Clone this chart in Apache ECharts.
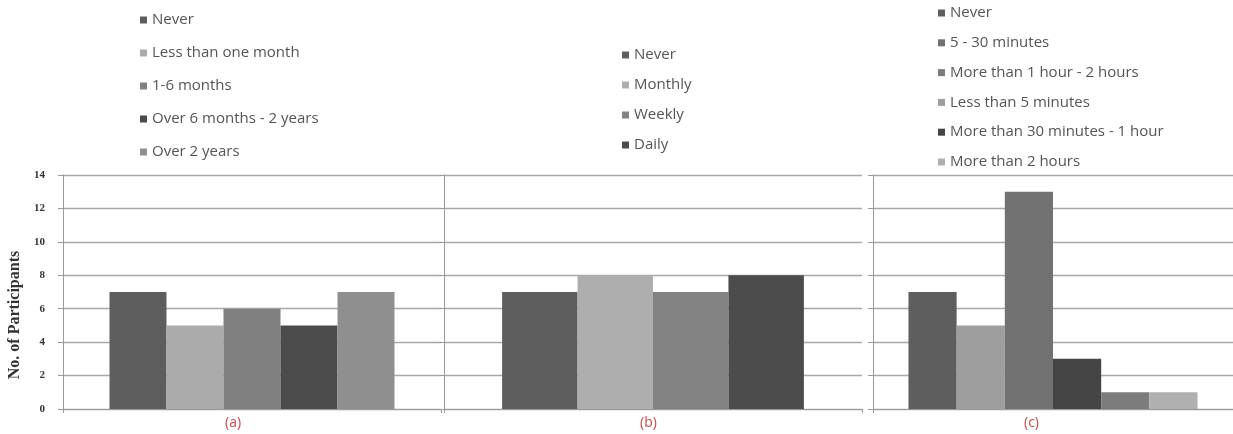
<!DOCTYPE html>
<html>
<head>
<meta charset="utf-8">
<script src="https://cdn.jsdelivr.net/npm/echarts@6/dist/echarts.min.js"></script>
<style>
  html, body { margin: 0; padding: 0; background: #fff; }
  #chart { width: 1233px; height: 434px; }
</style>
</head>
<body>
<div id="chart"></div>
<script>
// Panel (a): how long participants have been doing it
const namesA = ['Never', 'Less than one month', '1-6 months', 'Over 6 months - 2 years', 'Over 2 years'];
const valuesA = [7, 5, 6, 5, 7];
const colorsA = ['#5e5e5e', '#ababab', '#808080', '#4b4b4b', '#8f8f8f'];

// Panel (b): frequency
const namesB = ['Never', 'Monthly', 'Weekly', 'Daily'];
const valuesB = [7, 8, 7, 8];
const colorsB = ['#5e5e5e', '#aeaeae', '#828282', '#4c4c4c'];

// Panel (c): time spent per session (bar order)
const namesC = ['Never', 'Less than 5 minutes', '5 - 30 minutes', 'More than 30 minutes - 1 hour',
                'More than 1 hour - 2 hours', 'More than 2 hours'];
const valuesC = [7, 5, 13, 3, 1, 1];
const colorsC = ['#5e5e5e', '#9e9e9e', '#727272', '#454545', '#7c7c7c', '#b0b0b0'];
// Legend order for panel (c)
const legendC = ['Never', '5 - 30 minutes', 'More than 1 hour - 2 hours', 'Less than 5 minutes',
                 'More than 30 minutes - 1 hour', 'More than 2 hours'];

const panelLabels = ['(a)', '(b)', '(c)'];
const yTicks = { min: 0, max: 14, interval: 2 };
const yTitle = 'No. of Participants';

const gridLine = '#a8a8a8';
const legendFont = { fontFamily: 'Open Sans', fontSize: 15, color: '#555', lineHeight: 16 };

const grids = [
  { left: 63, width: 378, top: 175, bottom: 25 },
  { left: 444, width: 418, top: 175, bottom: 25 },
  { left: 873, right: 0, top: 175, bottom: 25 }
];

function xAxisFor(i) {
  return {
    type: 'category', gridIndex: i, data: [panelLabels[i]],
    axisLine: { lineStyle: { color: '#9a9a9a', width: 1 } },
    axisTick: { show: true, length: 4, lineStyle: { color: '#9a9a9a' } },
    axisLabel: { show: false }
  };
}

function yAxisFor(i) {
  return {
    type: 'value', gridIndex: i, min: yTicks.min, max: yTicks.max, interval: yTicks.interval,
    axisLine: { show: true, lineStyle: { color: '#9a9a9a', width: 1 } },
    axisTick: { show: true, length: 5, lineStyle: { color: '#9a9a9a' } },
    splitLine: { show: true, lineStyle: { color: gridLine, width: 1.3 } },
    axisLabel: {
      show: i === 0, margin: 18, fontFamily: 'Liberation Serif', fontWeight: 'bold',
      fontSize: 11, color: '#333'
    }
  };
}

function seriesFor(i, names, values, colors, gap) {
  return names.map((n, k) => ({
    type: 'bar', name: n, xAxisIndex: i, yAxisIndex: i,
    data: [values[k]],
    barGap: '0%', barCategoryGap: gap,
    itemStyle: { color: colors[k] },
    emphasis: { disabled: true }
  }));
}

function legendFor(names, left, top, gap) {
  return {
    data: names, orient: 'vertical', left: left, top: top, padding: 0,
    itemGap: gap, itemWidth: 7, itemHeight: 7, icon: 'rect',
    itemStyle: { borderWidth: 0 },
    textStyle: legendFont, selectedMode: false
  };
}

const panelLabelFont = '14px "Open Sans"';

const option = {
  animation: false,
  backgroundColor: '#fff',
  grid: grids,
  xAxis: [xAxisFor(0), xAxisFor(1), xAxisFor(2)],
  yAxis: [yAxisFor(0), yAxisFor(1), yAxisFor(2)],
  legend: [
    legendFor(namesA, 140, 12, 17),
    legendFor(namesB, 622, 47, 14),
    legendFor(legendC, 938, 5, 13.8)
  ],
  series: [
    ...seriesFor(0, namesA, valuesA, colorsA, '24.6%'),
    ...seriesFor(1, namesB, valuesB, colorsB, '27.8%'),
    ...seriesFor(2, namesC, valuesC, colorsC, '19.7%')
  ],
  graphic: [
    {
      type: 'text', x: 15, y: 315, rotation: Math.PI / 2,
      style: {
        text: yTitle, font: 'bold 16px "Liberation Serif"', fill: '#333',
        align: 'center', verticalAlign: 'middle'
      }
    },
    { type: 'text', left: 225, top: 416, style: { text: panelLabels[0], font: panelLabelFont, fill: '#c94a4a' } },
    { type: 'text', left: 640, top: 416, style: { text: panelLabels[1], font: panelLabelFont, fill: '#c94a4a' } },
    { type: 'text', left: 1024, top: 416, style: { text: panelLabels[2], font: panelLabelFont, fill: '#c94a4a' } }
  ]
};

const chart = echarts.init(document.getElementById('chart'), null, { renderer: 'canvas' });
chart.setOption(option);
</script>
</body>
</html>
